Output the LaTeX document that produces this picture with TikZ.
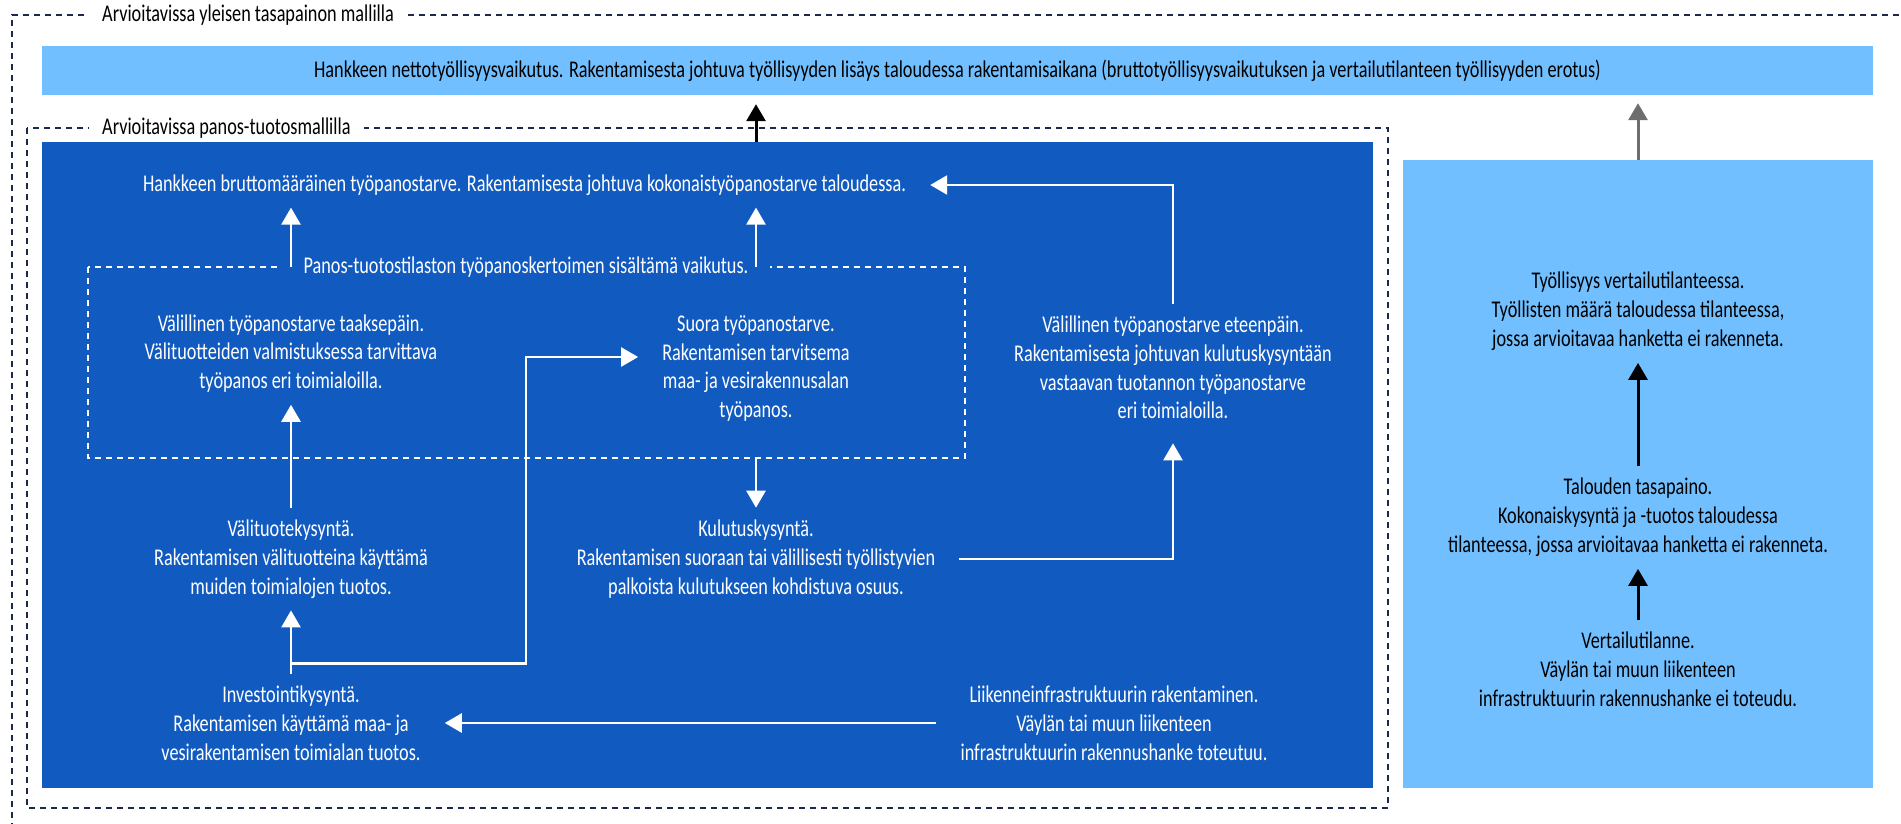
\documentclass[tikz,border=0pt]{standalone}
\usepackage{fontspec}
\setmainfont{Carlito}[FakeStretch=0.76]
\usetikzlibrary{arrows.meta, positioning, calc}
\definecolor{VaylaDark}{HTML}{115BC0}
\definecolor{VaylaLight}{HTML}{72BFFF}
\definecolor{VaylaNavy}{HTML}{1B2A4A}
\definecolor{VaylaGrey}{HTML}{6E6E6E}

\begin{document}
\begin{tikzpicture}[x=1pt, y=-1pt, >={Triangle[length=17pt, width=19pt]},
        font=\fontsize{24}{28.8}\selectfont,
        darkbox/.style={rectangle, fill=VaylaDark, inner sep=0pt},
        lightbox/.style={rectangle, fill=VaylaLight, inner sep=0pt},
        frame/.style={draw=VaylaNavy, line width=1.5pt, dash pattern=on 6pt off 5pt},
        wframe/.style={draw=white, line width=1.5pt, dash pattern=on 6pt off 5pt},
        txt/.style={align=center, inner xsep=24pt, inner ysep=12pt},
        wtxt/.style={txt, text=white},
        ktxt/.style={txt, text=black},
        tag/.style={fill=white, text=black, inner xsep=13pt, inner ysep=2pt, anchor=west},
        warrow/.style={->, white, line width=2.5pt},
        barrow/.style={->, black, line width=3pt},
        garrow/.style={->, VaylaGrey, line width=3pt}]

        \useasboundingbox (0,0) rectangle (1901,824);

        % coloured boxes
        \node[lightbox, minimum width=1831pt, minimum height=49pt] (net) at (957.5,70.5) {Hankkeen nettotyöllisyysvaikutus. Rakentamisesta johtuva työllisyyden lisäys taloudessa rakentamisaikana (bruttotyöllisyysvaikutuksen ja vertailutilanteen työllisyyden erotus)};
        \node[darkbox, minimum width=1331pt, minimum height=646pt] (blue) at (707.5,465) {};
        \node[lightbox, minimum width=470pt, minimum height=628pt] (rbox) at (1638,474) {};

        % model frames
        \draw[frame] (12,840) -- (12,15) -- (1920,15);
        \node[tag] (tagge) at (89,15) {Arvioitavissa yleisen tasapainon mallilla};
        \draw[frame] (27,128) rectangle (1388,808);
        \node[tag] (tagio) at (89,128) {Arvioitavissa panos-tuotosmallilla};

        \coordinate (pf1) at (88,267);
        \coordinate (pf2) at (965,458);
        \draw[wframe] (pf1) rectangle (pf2);
        \node[fill=VaylaDark, text=white, inner xsep=22pt, inner ysep=2pt] (panos) at (526,267) {Panos-tuotostilaston työpanoskertoimen sisältämä vaikutus.};

        \node[wtxt] (gross) at (524.5,185) {Hankkeen bruttomääräinen työpanostarve. Rakentamisesta johtuva kokonaistyöpanostarve taloudessa.};
        \node[wtxt] (back) at (291,353.5) {Välillinen työpanostarve taaksepäin.\\Välituotteiden valmistuksessa tarvittava\\työpanos eri toimialoilla.};
        \node[wtxt] (suora) at (756,368.5) {Suora työpanostarve.\\Rakentamisen tarvitsema\\maa- ja vesirakennusalan\\työpanos.};
        \node[wtxt] (fwd) at (1173,367.5) {Välillinen työpanostarve eteenpäin.\\Rakentamisesta johtuvan kulutuskysyntään\\vastaavan tuotannon työpanostarve\\eri toimialoilla.};
        \node[wtxt] (inter) at (291,559) {Välituotekysyntä.\\Rakentamisen välituotteina käyttämä\\muiden toimialojen tuotos.};
        \node[wtxt] (cons) at (756,559) {Kulutuskysyntä.\\Rakentamisen suoraan tai välillisesti työllistyvien\\palkoista kulutukseen kohdistuva osuus.};
        \node[wtxt] (invest) at (291,723) {Investointikysyntä.\\Rakentamisen käyttämä maa- ja\\vesirakentamisen toimialan tuotos.};
        \node[wtxt] (infra) at (1114,723) {Liikenneinfrastruktuurin rakentaminen.\\Väylän tai muun liikenteen\\infrastruktuurin rakennushanke toteutuu.};

        \node[ktxt] (comp) at (1638,311.5) {Työllisyys vertailutilanteessa.\\Työllisten määrä taloudessa tilanteessa,\\jossa arvioitavaa hanketta ei rakenneta.};
        \node[ktxt] (bal) at (1638,517.5) {Talouden tasapaino.\\Kokonaiskysyntä ja -tuotos taloudessa\\tilanteessa, jossa arvioitavaa hanketta ei rakenneta.};
        \node[ktxt] (ref) at (1638,669.5) {Vertailutilanne.\\Väylän tai muun liikenteen\\infrastruktuurin rakennushanke ei toteudu.};

        % connectors
        \draw[warrow] (back |- pf1) -- (back |- gross.south);
        \draw[warrow] (suora |- pf1) -- (suora |- gross.south);
        \draw[warrow] (cons |- pf2) -- (cons.north);
        \draw[warrow] (inter.north) -- (back.south);
        \draw[warrow] (invest.north) -- (inter.south);
        \coordinate (split) at ($(invest.north)+(0,-10)$);
        \coordinate (bend) at (526,357);
        \draw[warrow] (split) -| (bend) -- (bend -| suora.west);
        \draw[warrow] (cons.east) -| ($(fwd.south)+(0,12)$);
        \draw[warrow] (fwd.north) |- (gross.east);
        \draw[warrow] (infra.west) -- (infra.west -| invest.east);

        \draw[barrow] (blue.north -| suora) -- ($(net.south -| suora)+(0,9)$);
        \draw[garrow] (rbox.north) -- ($(net.south -| rbox)+(0,8)$);
        \draw[barrow] (bal.north) -- (comp.south);
        \draw[barrow] (ref.north) -- (bal.south);
    \end{tikzpicture}
\end{document}
